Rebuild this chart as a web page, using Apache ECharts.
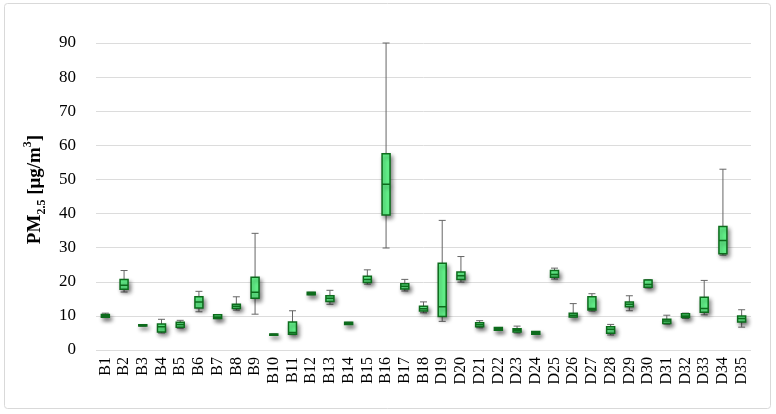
<!DOCTYPE html>
<html><head><meta charset="utf-8">
<script src="https://cdn.jsdelivr.net/npm/echarts@6/dist/echarts.min.js"></script>
<style>html,body{margin:0;padding:0;background:#fff}#c{width:776px;height:414px}</style>
</head><body><div id="c"></div>
<script>
var categories = ['B1','B2','B3','B4','B5','B6','B7','B8','B9','B10','B11','B12','B13','B14','B15','B16','B17','B18','D19','D20','D21','D22','D23','D24','D25','D26','D27','D28','D29','D30','D31','D32','D33','D34','D35'];
var whiskerMin = [9.5,17.0,7.0,5.0,6.4,11.2,9.2,11.7,10.5,4.3,4.5,16.2,13.4,7.5,19.3,29.9,17.3,10.9,8.4,19.9,6.5,5.8,5.0,4.6,20.8,9.7,11.4,4.4,11.5,18.2,7.6,9.3,10.3,27.8,6.7];
var q1 = [9.6,17.8,7.0,5.3,6.7,12.3,9.2,12.2,15.2,4.3,4.6,16.2,14.2,7.5,19.8,39.6,17.9,11.4,9.8,20.7,6.8,5.8,5.3,4.6,21.3,9.7,11.7,4.9,12.7,18.4,7.8,9.5,11.1,28.2,8.2];
var medians = [10.0,19.0,7.2,6.8,7.5,14.1,9.7,12.8,16.9,4.5,5.1,16.5,15.2,7.8,20.7,48.6,18.7,12.1,12.7,21.8,7.4,6.2,5.8,5.0,22.1,10.2,12.2,6.1,13.4,19.2,8.5,10.0,12.2,32.1,9.2];
var q3 = [10.4,20.7,7.4,7.6,8.1,15.6,10.3,13.4,21.3,4.7,8.2,16.9,15.9,8.1,21.6,57.5,19.4,12.8,25.4,22.9,8.0,6.6,6.2,5.4,23.3,10.8,15.6,6.8,14.1,20.5,9.0,10.6,15.5,36.2,10.0];
var whiskerMax = [10.8,23.3,7.4,9.0,8.7,17.2,10.3,15.6,34.2,4.7,11.5,16.9,17.5,8.1,23.5,90.0,20.7,14.1,38.0,27.4,8.6,6.6,7.0,5.4,24.0,13.6,16.5,7.5,15.9,20.6,10.2,10.8,20.4,53.0,11.8];
var yTicks = [0,10,20,30,40,50,60,70,80,90];

var whiskerData = categories.map(function(c,i){return [whiskerMin[i], medians[i], medians[i], medians[i], whiskerMax[i]];});
var boxData = categories.map(function(c,i){return [q1[i], q1[i], medians[i], q3[i], q3[i]];});

var chart = echarts.init(document.getElementById('c'));
var font = '"Liberation Serif", "DejaVu Serif", serif';
chart.setOption({
  animation: false,
  backgroundColor: '#fff',
  graphic: [{type:'rect', shape:{x:4.5,y:3.5,width:766,height:405,r:3}, style:{fill:'none', stroke:'#d9d9d9', lineWidth:1}, z:-1}],
  grid: {left:96, right:25, top:43, bottom:64},
  xAxis: [{
    type:'category', data:categories, boundaryGap:true,
    axisLine:{show:false}, axisTick:{show:false},
    axisLabel:{rotate:90, margin:7, fontFamily:font, fontSize:16, color:'#000', interval:0}
  },{
    type:'category', data:categories, boundaryGap:true, show:false
  }],
  yAxis: {
    type:'value', min:0, max:90, interval:10,
    axisLine:{show:false}, axisTick:{show:false},
    splitLine:{lineStyle:{color:'#dcdcdc', width:1}},
    axisLabel:{margin:20, fontFamily:font, fontSize:17, color:'#000',
      formatter:function(v){return yTicks.indexOf(v)>=0 ? String(v) : '';}},
    name:'{b|PM}{s|2.5}{b| [μg/m}{p|3}{b|]}',
    nameLocation:'middle', nameRotate:90, nameGap:36,
    nameTextStyle:{
      padding:[0,0,0,14],
      rich:{
        b:{fontFamily:font, fontWeight:'bold', fontSize:19, color:'#000', lineHeight:26, verticalAlign:'middle'},
        s:{fontFamily:font, fontWeight:'bold', fontSize:12, color:'#000', lineHeight:26, verticalAlign:'bottom', padding:[9,0,0,0]},
        p:{fontFamily:font, fontWeight:'bold', fontSize:12, color:'#000', lineHeight:26, verticalAlign:'top', padding:[0,0,7,0]}
      }
    }
  },
  series: [{
    type:'boxplot', xAxisIndex:1, data:whiskerData, boxWidth:[7,7],
    itemStyle:{color:'rgba(0,0,0,0)', borderColor:'#666', borderWidth:1},
    emphasis:{disabled:true}, z:2
  },{
    type:'boxplot', xAxisIndex:0, data:boxData, boxWidth:[8,8],
    itemStyle:{color:'#66fa8e', borderColor:'#0d6b1c', borderWidth:1.5,
      shadowBlur:4, shadowOffsetX:2, shadowOffsetY:3, shadowColor:'rgba(0,0,0,0.45)'},
    emphasis:{disabled:true}, z:3
  }]
});
</script></body></html>
